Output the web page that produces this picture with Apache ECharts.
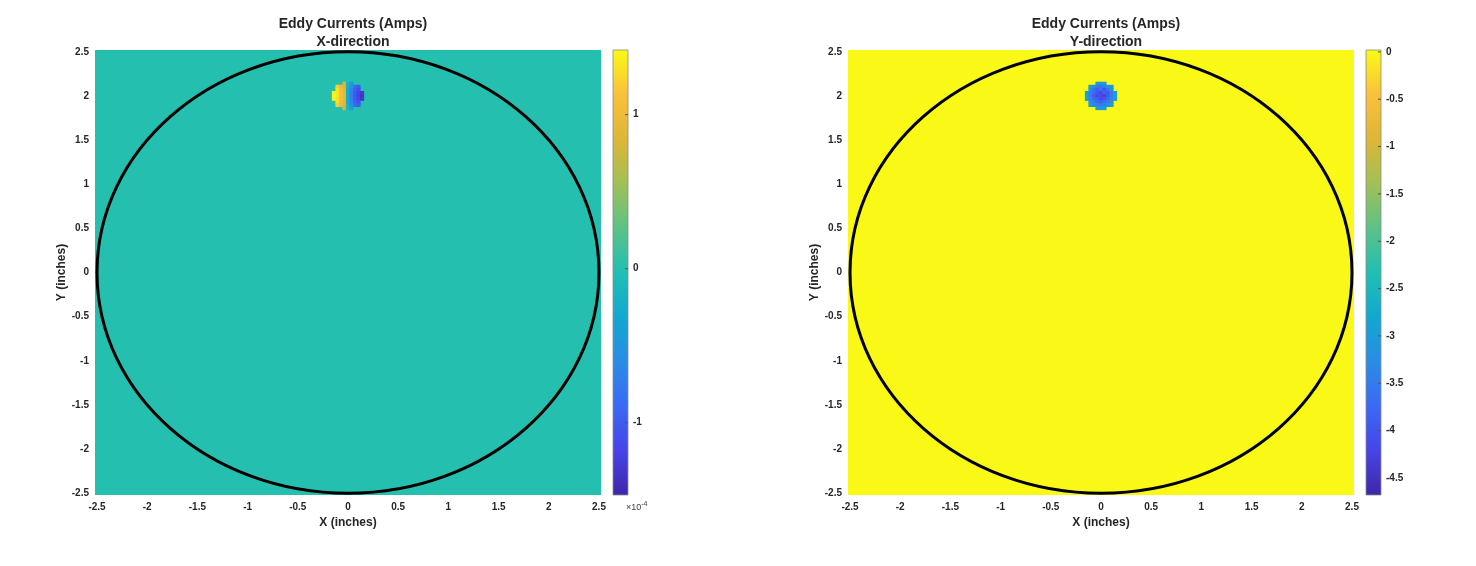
<!DOCTYPE html>
<html>
<head>
<meta charset="utf-8">
<script src="https://cdn.jsdelivr.net/npm/echarts@6/dist/echarts.min.js"></script>
<style>html,body{margin:0;padding:0;background:#fff}#chart{width:1476px;height:566px}</style>
</head>
<body>
<div id="chart"></div>
<script>
// ---------------- data ----------------
const axisTicks = [-2.5, -2, -1.5, -1, -0.5, 0, 0.5, 1, 1.5, 2, 2.5];
const axisExtent = 2.52;          // plotted limits (inches)
const plateRadius = 2.5;          // black circle radius (inches)
const plateCenter = [0, 0];
const blobCenter = [0, 2.0];      // probe location (inches)
const cellStep = 0.035;           // mesh cell size (inches)
const cellOffsets = [-0.14, -0.105, -0.07, -0.035, 0, 0.035, 0.07, 0.105, 0.14];
const fieldValueX = 0;            // background eddy current, X (x1e-4 A)
const fieldValueY = 0;            // background eddy current, Y (A)

// X-direction eddy current (units of 1e-4 A), rows top -> bottom
const eddyX = [
  [null, null, null, 0.75, -0.15, -0.45, null, null, null],
  [null, 1.20, 1.00, 0.85, -0.20, -0.55, -0.85, -1.00, null],
  [null, 1.30, 1.05, 0.90, -0.25, -0.65, -0.95, -1.10, null],
  [1.38, 1.30, 1.10, 0.95, -0.25, -0.70, -1.00, -1.18, -1.30],
  [1.42, 1.32, 1.12, 0.95, -0.25, -0.72, -1.02, -1.20, -1.35],
  [1.38, 1.30, 1.10, 0.95, -0.25, -0.70, -1.00, -1.18, -1.30],
  [null, 1.30, 1.05, 0.90, -0.25, -0.65, -0.95, -1.10, null],
  [null, 1.20, 1.00, 0.85, -0.20, -0.55, -0.85, -1.00, null],
  [null, null, null, 0.75, -0.15, -0.45, null, null, null]
];
// Y-direction eddy current (A), rows top -> bottom
const eddyY = [
  [null, null, null, -3.0, -3.1, -3.0, null, null, null],
  [null, -3.0, -3.3, -3.5, -3.6, -3.4, -3.2, -3.0, null],
  [null, -3.2, -3.6, -3.9, -3.7, -4.0, -3.6, -3.2, null],
  [-3.0, -3.4, -3.7, -4.0, -4.2, -3.8, -4.0, -3.5, -3.0],
  [-3.0, -3.5, -3.9, -4.2, -4.1, -4.3, -3.9, -3.5, -3.0],
  [-3.0, -3.4, -3.8, -3.9, -4.2, -4.0, -3.8, -3.4, -3.0],
  [null, -3.2, -3.5, -3.8, -3.9, -3.7, -3.5, -3.2, null],
  [null, -3.0, -3.3, -3.4, -3.5, -3.4, -3.2, -3.0, null],
  [null, null, null, -3.0, -3.1, -3.0, null, null, null]
];
const cbarX = {min: -1.47, max: 1.42, ticks: [-1, 0, 1]};
const cbarY = {min: -4.68, max: 0.02, ticks: [-4.5, -4, -3.5, -3, -2.5, -2, -1.5, -1, -0.5, 0]};

const parula = ['#3E26A8', '#4744E8', '#3A6AF4', '#2A8CE6', '#12A8D0', '#20BFB3',
                '#5CC287', '#A2C055', '#DEB637', '#FBC03A', '#F9FB15'];

// ---------------- build ----------------
function buildCells(grid, bg) {
  const out = [[0, 0, 2 * axisExtent, 2 * axisExtent, bg]];
  for (let r = 0; r < grid.length; r++) {
    for (let c = 0; c < grid[r].length; c++) {
      const v = grid[r][c];
      if (v === null) continue;
      out.push([blobCenter[0] + cellOffsets[c], blobCenter[1] - cellOffsets[r], cellStep, cellStep, v]);
    }
  }
  return out;
}

const FONT = 'Liberation Sans, Arial, sans-serif';
const TXT = '#262626';

function cellRender(params, api) {
  const c = api.coord([api.value(0), api.value(1)]);
  const s = api.size([api.value(2), api.value(3)]);
  return {type: 'rect', shape: {x: c[0] - s[0] / 2 - 0.3, y: c[1] - s[1] / 2 - 0.3, width: s[0] + 0.6, height: s[1] + 0.6},
          style: {fill: api.visual('color')}};
}
function circleRender(params, api) {
  const c = api.coord([api.value(0), api.value(1)]);
  const s = api.size([api.value(2), api.value(2)]);
  return {type: 'ellipse', shape: {cx: c[0], cy: c[1], rx: s[0], ry: s[1]},
          style: {fill: null, stroke: '#000', lineWidth: 3}};
}
function cbarRender(params, api) {
  const p0 = api.coord([0, api.value(1)]);
  const p1 = api.coord([1, api.value(0)]);
  const stops = parula.map((col, i) => ({offset: 1 - i / (parula.length - 1), color: col}));
  return {type: 'rect', shape: {x: p0[0], y: p0[1], width: p1[0] - p0[0], height: p1[1] - p0[1]},
          style: {fill: {type: 'linear', x: 0, y: 0, x2: 0, y2: 1, colorStops: stops.reverse()},
                  stroke: '#8c8c8c', lineWidth: 0.8}};
}
function cbarTickRender(params, api) {
  const p = api.coord([1, api.value(0)]);
  return {type: 'line', shape: {x1: p[0] - 3, y1: p[1], x2: p[0], y2: p[1]},
          style: {stroke: '#555', lineWidth: 1}};
}

const mainGrids = [{left: 95, top: 50, width: 506, height: 445}, {left: 848, top: 50, width: 506, height: 445}];
const cbarGrids = [{left: 613, top: 50, width: 15, height: 445}, {left: 1366, top: 50, width: 15, height: 445}];

function mainAxes(gi) {
  const lbl = {customValues: axisTicks, fontSize: 10, fontWeight: 'bold', color: TXT, fontFamily: FONT, margin: 6};
  return {
    x: {type: 'value', gridIndex: gi, min: -axisExtent, max: axisExtent, splitLine: {show: false},
        axisLine: {show: false}, axisTick: {show: false}, axisLabel: Object.assign({}, lbl, {margin: 7}),
        name: 'X (inches)', nameLocation: 'middle', nameGap: 22,
        nameTextStyle: {fontSize: 12, fontWeight: 'bold', color: TXT, fontFamily: FONT}},
    y: {type: 'value', gridIndex: gi, min: -axisExtent, max: axisExtent, splitLine: {show: false},
        axisLine: {show: false}, axisTick: {show: false}, axisLabel: lbl,
        name: 'Y (inches)', nameLocation: 'middle', nameGap: 26,
        nameTextStyle: {fontSize: 12, fontWeight: 'bold', color: TXT, fontFamily: FONT}}
  };
}
function cbarAxes(gi, cb) {
  return {
    x: {type: 'value', gridIndex: gi, min: 0, max: 1, show: false},
    y: {type: 'value', gridIndex: gi, min: cb.min, max: cb.max, position: 'right', splitLine: {show: false},
        axisLine: {show: false}, axisTick: {show: false},
        axisLabel: {customValues: cb.ticks, fontSize: 10, fontWeight: 'bold', color: TXT, fontFamily: FONT, margin: 5}}
  };
}

const m0 = mainAxes(0), m1 = mainAxes(1), c0 = cbarAxes(2, cbarX), c1 = cbarAxes(3, cbarY);

const option = {
  animation: false,
  backgroundColor: '#fff',
  title: [
    {text: 'Eddy Currents (Amps)\nX-direction', left: 348, top: 10, textAlign: 'center',
     textStyle: {fontSize: 14, fontWeight: 'bold', color: TXT, fontFamily: FONT, lineHeight: 18}},
    {text: 'Eddy Currents (Amps)\nY-direction', left: 1101, top: 10, textAlign: 'center',
     textStyle: {fontSize: 14, fontWeight: 'bold', color: TXT, fontFamily: FONT, lineHeight: 18}}
  ],
  grid: mainGrids.concat(cbarGrids),
  xAxis: [m0.x, m1.x, c0.x, c1.x],
  yAxis: [m0.y, m1.y, c0.y, c1.y],
  visualMap: [
    {type: 'continuous', show: false, seriesIndex: 0, dimension: 4, min: cbarX.min, max: cbarX.max, inRange: {color: parula}},
    {type: 'continuous', show: false, seriesIndex: 2, dimension: 4, min: cbarY.min, max: cbarY.max, inRange: {color: parula}}
  ],
  series: [
    {type: 'custom', xAxisIndex: 0, yAxisIndex: 0, renderItem: cellRender, data: buildCells(eddyX, fieldValueX), clip: true, silent: true},
    {type: 'custom', xAxisIndex: 0, yAxisIndex: 0, renderItem: circleRender, data: [[plateCenter[0], plateCenter[1], plateRadius]], silent: true, z: 3},
    {type: 'custom', xAxisIndex: 1, yAxisIndex: 1, renderItem: cellRender, data: buildCells(eddyY, fieldValueY), clip: true, silent: true},
    {type: 'custom', xAxisIndex: 1, yAxisIndex: 1, renderItem: circleRender, data: [[plateCenter[0], plateCenter[1], plateRadius]], silent: true, z: 3},
    {type: 'custom', xAxisIndex: 2, yAxisIndex: 2, renderItem: cbarRender, data: [[cbarX.min, cbarX.max]], silent: true, z: 1},
    {type: 'custom', xAxisIndex: 3, yAxisIndex: 3, renderItem: cbarRender, data: [[cbarY.min, cbarY.max]], silent: true, z: 1},
    {type: 'custom', xAxisIndex: 2, yAxisIndex: 2, renderItem: cbarTickRender, data: cbarX.ticks.map(t => [t]), silent: true, z: 4},
    {type: 'custom', xAxisIndex: 3, yAxisIndex: 3, renderItem: cbarTickRender, data: cbarY.ticks.map(t => [t]), silent: true, z: 4}
  ],
  graphic: [
    {type: 'text', left: 626, top: 501,
     style: {text: '×10{s|-4}', fontSize: 9, fill: '#404040', fontFamily: FONT,
             rich: {s: {fontSize: 7, verticalAlign: 'top', padding: [0, 0, 6, 0], fill: '#404040'}}}}
  ]
};

const chart = echarts.init(document.getElementById('chart'), null, {renderer: 'canvas'});
chart.setOption(option);
</script>
</body>
</html>
